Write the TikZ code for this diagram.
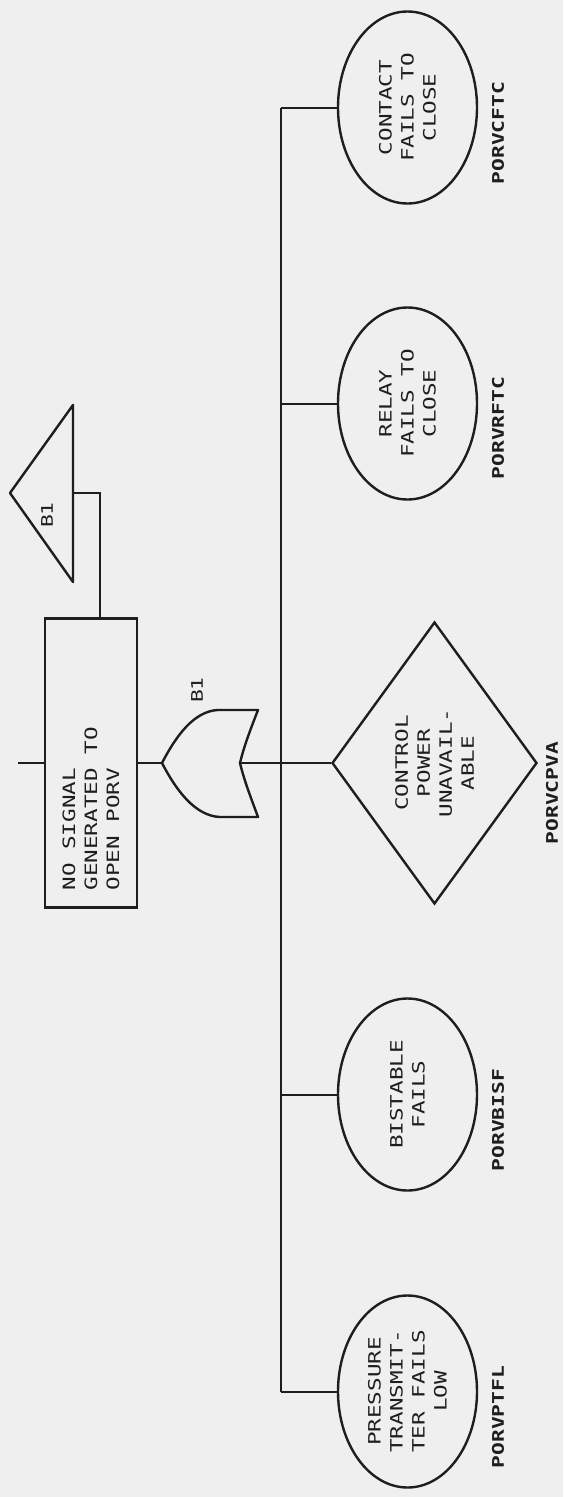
\documentclass[tikz,border=0pt]{standalone}
\usepackage{fontspec}
\usetikzlibrary{shapes.geometric, positioning}
\newfontfamily\plotter{DejaVu Sans Mono}[FakeStretch=1.33]
\newcommand{\plotfont}{\plotter\fontsize{17pt}{22pt}\selectfont}
\newcommand{\codefont}{\plotter\bfseries\fontsize{16pt}{20pt}\selectfont}
\definecolor{paper}{RGB}{239,239,239}
\definecolor{ink}{RGB}{30,30,30}

\begin{document}
\begin{tikzpicture}[
    x=1pt, y=-1pt,
    every node/.style={font=\plotfont, text=ink},
    eventbox/.style={rectangle, draw=ink, line width=2.4pt, rotate=90, minimum width=289pt, minimum height=92pt, inner sep=0pt},
    basic/.style={ellipse, draw=ink, line width=2.4pt, rotate=90, minimum width=192pt, minimum height=139pt, align=center, inner sep=0pt},
    undev/.style={diamond, draw=ink, line width=2.4pt, rotate=90, minimum width=282pt, minimum height=205pt, align=center, inner sep=0pt},
    code/.style={rotate=90, inner sep=0pt, font=\codefont},
    gatelabel/.style={rotate=90, inner sep=0pt, font=\plotter\fontsize{16pt}{20pt}\selectfont},
    wire/.style={draw=ink, line width=2pt},
    symbol/.style={draw=ink, line width=2.4pt, line join=round}
]

% ============ PAPER ============
\fill[paper] (0,0) rectangle (563,1497);

% ============ TOP EVENT ============
\node[eventbox] (nosig) at (91,763) {\parbox[c]{255pt}{\raggedright NO SIGNAL\\GENERATED TO\\OPEN PORV}};
\coordinate (upin) at (18,763);
\draw[wire] (upin) -- (nosig.north);

% Transfer symbol
\draw[symbol] (10,493) -- (73,405) -- (73,582) -- cycle;
\coordinate (xfer) at (73,493);
\node[gatelabel] (xferlbl) at (47,515) {B1};
\draw[wire] (xfer) -| ([xshift=9pt]nosig.east);

% ============ OR GATE ============
\coordinate (orout) at (162,763);
\coordinate (orin) at (240,763);
\draw[symbol, fill=paper] (orout) .. controls (176,736) and (194,711) .. (218,710) -- (258,710)
    .. controls (251,728) and (244,746) .. (orin)
    .. controls (244,780) and (251,798) .. (258,817) -- (220,817)
    .. controls (195,816) and (176,790) .. (orout) -- cycle;
\node[gatelabel] (orlbl) at (197,690) {B1};
\draw[wire] (nosig.south) -- (orout);

% ============ BASIC EVENTS ============
\node[basic] (cftc) at (407.5,107.5) {CONTACT\\FAILS TO\\CLOSE};
\node[basic] (rftc) at (407.5,403.5) {RELAY\\FAILS TO\\CLOSE};
\node[undev] (cpva) at (434.5,763) {CONTROL\\POWER\\UNAVAIL-\\ABLE};
\node[basic] (bisf) at (407.5,1094.5) {BISTABLE\\FAILS};
\node[basic] (ptfl) at (407.5,1391.5) {PRESSURE\\TRANSMIT-\\TER FAILS\\LOW};

% Event codes
\node[code] (cftcid) at (498,133) {PORVCFTC};
\node[code] (rftcid) at (498,428) {PORVRFTC};
\node[code] (cpvaid) at (552,793) {PORVCPVA};
\node[code] (bisfid) at (498,1120) {PORVBISF};
\node[code] (ptflid) at (498,1417) {PORVPTFL};

% ============ BUS ============
\coordinate (bus) at (281,0);
\draw[wire] (bus |- cftc.north) -- (bus |- ptfl.north);
\draw[wire] (orin) -- (cpva.north);
\foreach \ev in {cftc, rftc, bisf, ptfl}
    \draw[wire] (bus |- \ev.north) -- (\ev.north);

\end{tikzpicture}
\end{document}
